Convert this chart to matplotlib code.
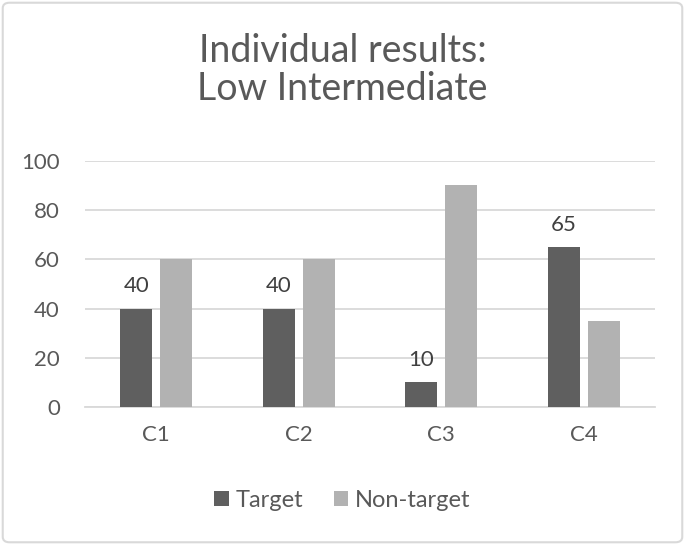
import matplotlib.pyplot as plt
import numpy as np
from matplotlib.patches import FancyBboxPatch

categories = ['C1', 'C2', 'C3', 'C4']
target = [40, 40, 10, 65]
non_target = [60, 60, 90, 35]

plt.rcParams['font.family'] = ['Lato', 'DejaVu Sans']
text_color = '#595959'

fig = plt.figure(figsize=(6.85, 5.45), dpi=100)
ax = fig.add_axes([0.124, 0.253, 0.832, 0.452])

x = np.arange(len(categories))
w = 0.225
ax.bar(x - 0.14, target, width=w, color='#5f5f5f', label='Target', zorder=3)
ax.bar(x + 0.14, non_target, width=w, color='#b2b2b2', label='Non-target', zorder=3)

for xi, v in zip(x, target):
    ax.text(xi - 0.14, v + 5, str(v), ha='center', va='bottom', fontsize=16, color='#404040')

ax.set_xlim(-0.5, len(categories) - 0.5)
ax.set_ylim(0, 100)
ax.set_yticks(range(0, 101, 20))
ax.set_xticks(x)
ax.set_xticklabels(categories)
ax.grid(axis='y', color='#d9d9d9', linewidth=1.3, zorder=0)
for s in ['top', 'right', 'left']:
    ax.spines[s].set_visible(False)
ax.spines['bottom'].set_color('#d9d9d9')
ax.spines['bottom'].set_linewidth(1.3)
ax.tick_params(axis='both', length=0, labelsize=16, colors=text_color)
ax.tick_params(axis='y', pad=18)
ax.tick_params(axis='x', pad=13)

fig.text(0.5, 0.872, 'Individual results:\nLow Intermediate', ha='center', va='center',
         fontsize=27, color=text_color, linespacing=1.08)

fig.legend(loc='center', bbox_to_anchor=(0.5, 0.082), ncol=2, frameon=False,
           fontsize=17, labelcolor=text_color, handlelength=0.6, handleheight=0.6,
           handletextpad=0.3, columnspacing=1.3)

border = FancyBboxPatch((0.004, 0.005), 0.992, 0.99, boxstyle='round,pad=0,rounding_size=0.01',
                        transform=fig.transFigure, fill=False, edgecolor='#d9d9d9', linewidth=1.5)
fig.patches.append(border)

fig.savefig('out.png', dpi=100)
